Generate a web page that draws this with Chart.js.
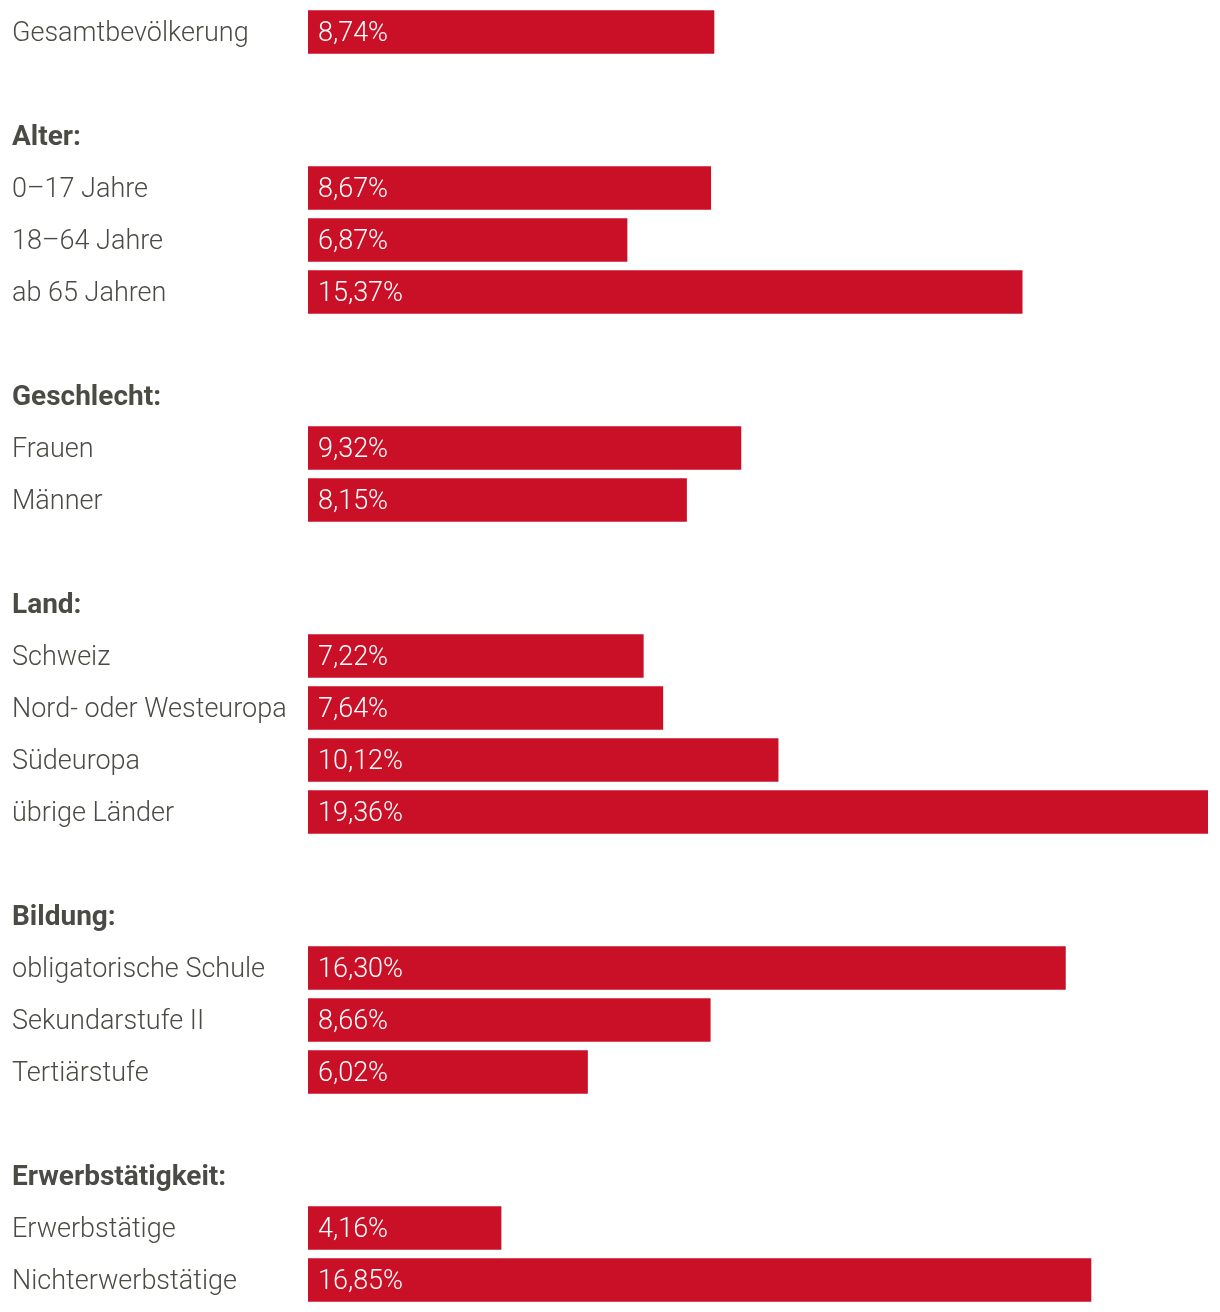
<!DOCTYPE html>
<html>
<head>
<meta charset="utf-8">
<script src="https://cdn.jsdelivr.net/npm/chart.js@4/dist/chart.umd.min.js"></script>
<style>
  body { margin: 0; background: #fff; }
  #wrap { width: 1220px; height: 1312px; }
</style>
</head>
<body>
<div id="wrap"><canvas id="grafik" width="1220" height="1312"></canvas></div>
<script>
const kategorien = [
  "Gesamtbevölkerung", "",
  "Alter:", "0–17 Jahre", "18–64 Jahre", "ab 65 Jahren", "",
  "Geschlecht:", "Frauen", "Männer", "",
  "Land:", "Schweiz", "Nord- oder Westeuropa", "Südeuropa", "übrige Länder", "",
  "Bildung:", "obligatorische Schule", "Sekundarstufe II", "Tertiärstufe", "",
  "Erwerbstätigkeit:", "Erwerbstätige", "Nichterwerbstätige"
];
const werte = [
  8.74, null,
  null, 8.67, 6.87, 15.37, null,
  null, 9.32, 8.15, null,
  null, 7.22, 7.64, 10.12, 19.36, null,
  null, 16.30, 8.66, 6.02, null,
  null, 4.16, 16.85
];
const titel = ["Alter:", "Geschlecht:", "Land:", "Bildung:", "Erwerbstätigkeit:"];

const schrift = "Roboto";
const rot = "#c91026";
const grau = "#4b4b45";

// Prozentwerte weiss in die Balken schreiben
const werteText = {
  id: "werteText",
  afterDatasetsDraw(chart) {
    const ctx = chart.ctx;
    const meta = chart.getDatasetMeta(0);
    ctx.save();
    ctx.fillStyle = "#ffffff";
    ctx.font = "300 27px " + schrift;
    ctx.textAlign = "left";
    ctx.textBaseline = "middle";
    meta.data.forEach((bar, i) => {
      const v = werte[i];
      if (v === null) return;
      ctx.fillText(v.toFixed(2).replace(".", ",") + "%", bar.base + 10, bar.y + 2);
    });
    ctx.restore();
  }
};

new Chart(document.getElementById("grafik"), {
  type: "bar",
  data: {
    labels: kategorien,
    datasets: [
      {
        data: werte,
        backgroundColor: rot,
        borderWidth: 0,
        categoryPercentage: 1,
        barPercentage: 0.84,
      },
    ],
  },
  options: {
    indexAxis: "y",
    responsive: false,
    animation: false,
    layout: { padding: { left: 12, right: 12, top: 6, bottom: 6 } },
    plugins: {
      legend: { display: false },
      tooltip: { enabled: false },
    },
    scales: {
      x: {
        display: false,
        min: 0,
        max: 19.36,
      },
      y: {
        grid: { display: false },
        border: { display: false },
        afterFit: (s) => {
          s.width = 296;
          s.paddingTop = 0;
          s.paddingBottom = 0;
        },
        ticks: {
          autoSkip: false,
          crossAlign: "far",
          labelOffset: 2,
          color: grau,
          font: (c) => titel.includes(kategorien[c.index])
            ? { family: schrift, size: 28, weight: "bold" }
            : { family: schrift, size: 27, weight: "300" },
        },
      },
    },
  },
  plugins: [werteText],
});
</script>
</body>
</html>
